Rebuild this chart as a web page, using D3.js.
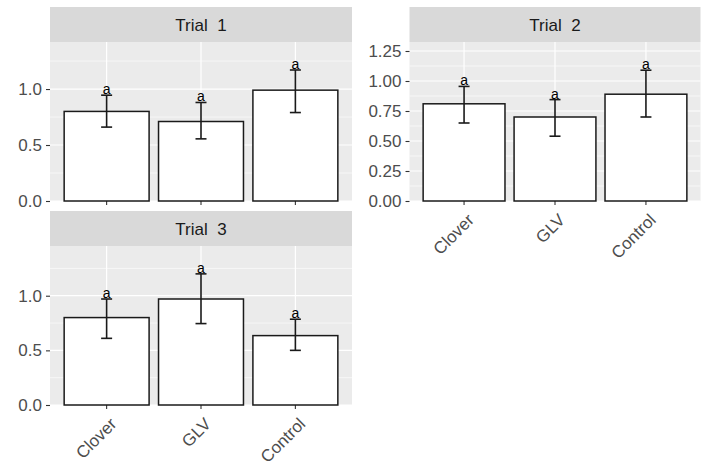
<!DOCTYPE html>
<html>
<head>
<meta charset="utf-8">
<script src="https://cdn.jsdelivr.net/npm/d3@7"></script>
<style>
  body { margin: 0; background: #fff; }
  text { font-family: "Liberation Sans", Arial, sans-serif; }
</style>
</head>
<body>
<div id="chart"></div>
<script>
// data
const trials = ["Trial  1", "Trial  2", "Trial  3"];
const treatments = ["Clover", "GLV", "Control"];
const means = [
  [0.80, 0.71, 0.99],
  [0.81, 0.70, 0.89],
  [0.80, 0.97, 0.635]
];
const lowers = [
  [0.66, 0.555, 0.79],
  [0.65, 0.54, 0.70],
  [0.61, 0.745, 0.50]
];
const uppers = [
  [0.945, 0.88, 1.17],
  [0.955, 0.845, 1.09],
  [0.97, 1.20, 0.785]
];
const letters = [
  ["a", "a", "a"],
  ["a", "a", "a"],
  ["a", "a", "a"]
];
const yMax = [1.42, 1.325, 1.455];
const yTicks = [
  [0, 0.5, 1.0],
  [0, 0.25, 0.5, 0.75, 1.0, 1.25],
  [0, 0.5, 1.0]
];
const tickFormats = [".1f", ".2f", ".1f"];
const showXLabels = [false, true, true];

const width = 701, height = 469;

const svg = d3.select("#chart")
  .append("svg")
    .attr("width", width)
    .attr("height", height);

// panel boxes (plot area, strip sits on top)
const panels = [
  {x: 50, y: 42, w: 302, h: 159},
  {x: 409.5, y: 42, w: 291, h: 159},
  {x: 50, y: 246, w: 302, h: 159}
];
const stripH = 35;

trials.forEach(function(trial, i) {
  const p = panels[i];
  const g = svg.append("g")
    .attr("transform", `translate(${p.x}, ${p.y})`);

  const x = d3.scaleBand()
    .domain(treatments)
    .range([0, p.w])
    .paddingInner(0.1)
    .paddingOuter(0.15);

  const y = d3.scaleLinear()
    .domain([0, yMax[i]])
    .range([p.h, 0]);

  // strip
  g.append("rect")
    .attr("x", 0).attr("y", -stripH)
    .attr("width", p.w).attr("height", stripH)
    .style("fill", "#D9D9D9");
  g.append("text")
    .attr("x", p.w / 2).attr("y", -stripH / 2)
    .attr("dy", "0.36em")
    .attr("text-anchor", "middle")
    .style("white-space", "pre")
    .style("font-size", "17px")
    .style("fill", "#1A1A1A")
    .text(trial);

  // panel background
  g.append("rect")
    .attr("width", p.w).attr("height", p.h)
    .style("fill", "#EBEBEB");

  // minor grid lines half way between major ticks
  const t = yTicks[i];
  const stepT = t[1] - t[0];
  const minor = d3.range(stepT / 2, yMax[i], stepT);
  g.selectAll(".minor")
    .data(minor)
    .join("line")
    .attr("x1", 0).attr("x2", p.w)
    .attr("y1", d => y(d)).attr("y2", d => y(d))
    .style("stroke", "#fff")
    .style("stroke-width", 0.6);

  g.selectAll(".major")
    .data(t)
    .join("line")
    .attr("x1", 0).attr("x2", p.w)
    .attr("y1", d => y(d)).attr("y2", d => y(d))
    .style("stroke", "#fff")
    .style("stroke-width", 1.2);

  g.selectAll(".vgrid")
    .data(treatments)
    .join("line")
    .attr("x1", d => x(d) + x.bandwidth() / 2)
    .attr("x2", d => x(d) + x.bandwidth() / 2)
    .attr("y1", 0).attr("y2", p.h)
    .style("stroke", "#fff")
    .style("stroke-width", 1.2);

  // y axis
  const yAxis = g.append("g")
    .call(d3.axisLeft(y).tickValues(t).tickFormat(d3.format(tickFormats[i])).tickSize(4).tickPadding(4));
  yAxis.select(".domain").remove();
  yAxis.selectAll(".tick line").style("stroke", "#333333").style("stroke-width", 1.1);
  yAxis.selectAll(".tick text")
    .style("font-size", "17px")
    .style("font-family", "'Liberation Sans', Arial, sans-serif")
    .style("fill", "#4D4D4D");

  // x ticks
  g.selectAll(".xtick")
    .data(treatments)
    .join("line")
    .attr("x1", d => x(d) + x.bandwidth() / 2)
    .attr("x2", d => x(d) + x.bandwidth() / 2)
    .attr("y1", p.h).attr("y2", p.h + 4)
    .style("stroke", "#333333")
    .style("stroke-width", 1.1);

  if (showXLabels[i]) {
    g.selectAll(".xlab")
      .data(treatments)
      .join("text")
      .attr("text-anchor", "end")
      .attr("transform", d => `translate(${x(d) + x.bandwidth() / 2 + 11}, ${p.h + 20}) rotate(-45)`)
      .style("font-size", "17px")
      .style("fill", "#4D4D4D")
      .text(d => d);
  }

  // bars
  g.selectAll(".bar")
    .data(treatments)
    .join("rect")
    .attr("x", d => x(d))
    .attr("width", x.bandwidth())
    .attr("y", (d, j) => y(means[i][j]))
    .attr("height", (d, j) => p.h - y(means[i][j]))
    .style("fill", "#fff")
    .style("stroke", "#1A1A1A")
    .style("stroke-width", 1.5);

  // error bars
  const capW = 11;
  treatments.forEach(function(d, j) {
    const cx = x(d) + x.bandwidth() / 2;
    const eg = g.append("g")
      .style("stroke", "#1A1A1A")
      .style("stroke-width", 1.6);
    eg.append("line")
      .attr("x1", cx).attr("x2", cx)
      .attr("y1", y(lowers[i][j])).attr("y2", y(uppers[i][j]));
    eg.append("line")
      .attr("x1", cx - capW / 2).attr("x2", cx + capW / 2)
      .attr("y1", y(lowers[i][j])).attr("y2", y(lowers[i][j]));
    eg.append("line")
      .attr("x1", cx - capW / 2).attr("x2", cx + capW / 2)
      .attr("y1", y(uppers[i][j])).attr("y2", y(uppers[i][j]));
  });

  // group letters
  g.selectAll(".letter")
    .data(treatments)
    .join("text")
    .attr("x", d => x(d) + x.bandwidth() / 2)
    .attr("y", (d, j) => y(uppers[i][j]) - 1)
    .attr("text-anchor", "middle")
    .style("font-size", "14px")
    .style("fill", "#000")
    .text((d, j) => letters[i][j]);
});
</script>
</body>
</html>
